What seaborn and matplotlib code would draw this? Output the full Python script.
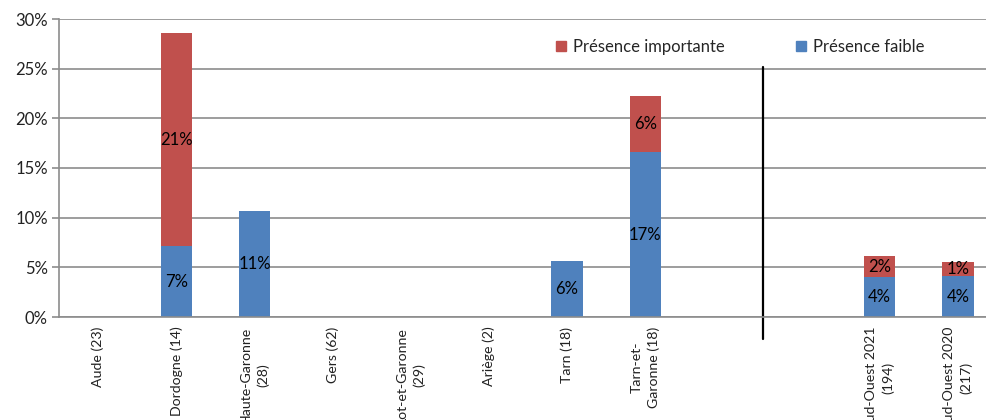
import matplotlib

matplotlib.use('Agg')

import pandas as pd
import seaborn as sns
import matplotlib.pyplot as plt
from matplotlib.patches import Patch
from matplotlib.ticker import PercentFormatter, MultipleLocator

# values (percent)
categories = ['Aude (23)', 'Dordogne (14)', 'Haute-Garonne\n(28)', 'Gers (62)',
              'Lot-et-Garonne\n(29)', 'Ariège (2)', 'Tarn (18)', 'Tarn-et-\nGaronne (18)',
              '', ' ', 'Sud-Ouest 2021\n(194)', 'Sud-Ouest 2020\n(217)']
faible = [0, 7.1, 10.7, 0, 0, 0, 5.6, 16.6, 0, 0, 4.0, 4.1]
importante = [0, 21.5, 0, 0, 0, 0, 0, 5.6, 0, 0, 2.1, 1.4]
faible_labels = ['', '7%', '11%', '', '', '', '6%', '17%', '', '', '4%', '4%']
importante_labels = ['', '21%', '', '', '', '', '', '6%', '', '', '2%', '1%']

RED = '#C0504D'
BLUE = '#4F81BD'
GRID = '#8C8C8C'


def main():
    df = pd.DataFrame({'cat': categories, 'faible': faible, 'importante': importante})
    df['total'] = df['faible'] + df['importante']

    sns.set_style('white')
    plt.rcParams['font.family'] = ['Lato', 'DejaVu Sans']

    fig = plt.figure(figsize=(9.86, 4.2), dpi=100)
    ax = fig.add_axes([59 / 986, 103 / 420, 938 / 986, 298 / 420])

    # stacked look: total in red, blue part drawn over it
    sns.barplot(data=df, x='cat', y='total', order=categories, color=RED,
                saturation=1, width=0.4, linewidth=0, ax=ax)
    sns.barplot(data=df, x='cat', y='faible', order=categories, color=BLUE,
                saturation=1, width=0.4, linewidth=0, ax=ax)

    ax.bar_label(ax.containers[1], labels=faible_labels, label_type='center',
                 fontsize=12, color='black')
    for i, lab in enumerate(importante_labels):
        if lab:
            ax.text(i, faible[i] + importante[i] / 2, lab, ha='center', va='center',
                    fontsize=12, color='black')

    ax.set_xlim(-0.5, len(categories) - 0.5)
    ax.set_ylim(0, 30)
    ax.yaxis.set_major_locator(MultipleLocator(5))
    ax.yaxis.set_major_formatter(PercentFormatter(decimals=0))
    ax.grid(axis='y', color=GRID, linewidth=1.2)
    ax.set_axisbelow(True)
    for side in ['top', 'right']:
        ax.spines[side].set_visible(False)
    for side in ['left', 'bottom']:
        ax.spines[side].set_color(GRID)
        ax.spines[side].set_linewidth(1.2)

    ax.set_xlabel('')
    ax.set_ylabel('')
    ax.set_xticks(range(len(categories)))
    ax.set_xticklabels(categories, rotation=90, ha='center', va='top',
                       multialignment='center', linespacing=1.45,
                       fontsize=10.2, color='#222222')
    ax.tick_params(axis='x', which='major', length=0, pad=7)
    ax.set_xticks([i - 0.5 for i in range(len(categories) + 1) if i != 9], minor=True)
    ax.tick_params(axis='x', which='minor', length=5, width=1.2, color=GRID)
    ax.tick_params(axis='y', length=5, width=1.2, color=GRID, labelsize=12,
                   labelcolor='#222222', left=True, pad=3)

    # separator between departments and regional totals
    ax.plot([8.5, 8.5], [-0.074, 0.839], color='black', lw=1.6,
            transform=ax.get_xaxis_transform(), clip_on=False)

    handles = [Patch(color=RED, label='Présence importante'),
               Patch(color=BLUE, label='Présence faible')]
    ax.legend(handles=handles, loc='center left', bbox_to_anchor=(0.521, 0.906),
              ncol=2, frameon=False, borderpad=0, handlelength=0.6, handleheight=0.6,
              handletextpad=0.4, columnspacing=4.3, fontsize=12)

    fig.savefig('out.png', dpi=100)


if __name__ == "__main__":
    main()
